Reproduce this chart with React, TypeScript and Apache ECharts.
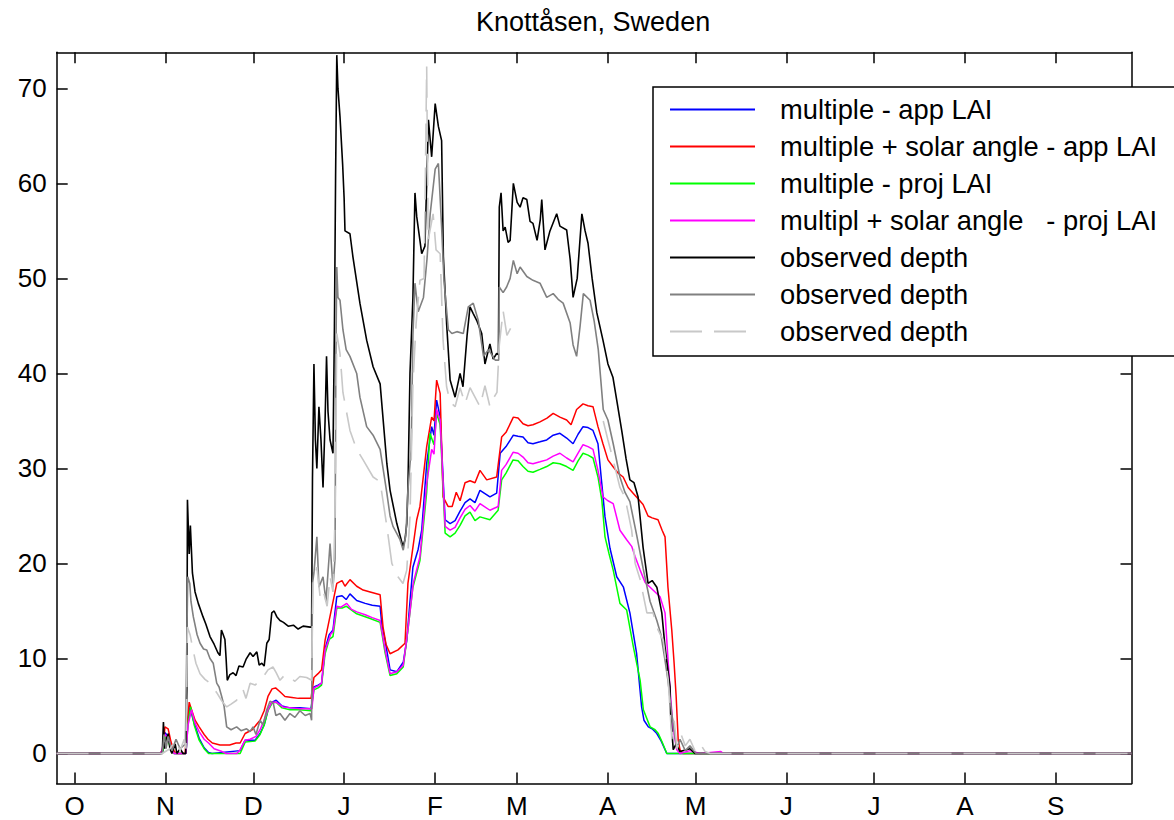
import React, { useEffect, useRef } from "react";
import * as echarts from "echarts";

// x values are days since 1 October
const monthStarts = [0, 31, 61, 92, 123, 151, 182, 212, 243, 273, 304, 335];
const monthLabels = ["O", "N", "D", "J", "F", "M", "A", "M", "J", "J", "A", "S"];
const yTicks = [0, 10, 20, 30, 40, 50, 60, 70];

const titleText = "Knottåsen, Sweden";
const seriesNames = [
  "multiple - app LAI",
  "multiple + solar angle - app LAI",
  "multiple - proj LAI",
  "multipl + solar angle   - proj LAI",
  "observed depth",
  "observed depth ",
  "observed depth  ",
];

const appLai: [number, number][] = [
  [-6.2, 0], [29.2, 0], [30.2, 0.3], [30.8, 2.2], [31.9, 1.8], [32.9, 0.6], [33.9, 0], [38, 0], [38.7, 3.5], [39.4, 4.9],
  [40.4, 3.6], [42.5, 1.6], [44.2, 0.6], [45.7, 0.1], [46.9, 0], [56.5, 0.3], [58.2, 1.4], [61.6, 1.4], [63.3, 2.1], [64.7, 3],
  [66, 4.6], [67.4, 5.4], [68.8, 5.6], [70.8, 5], [73.5, 4.8], [76.9, 4.8], [80.7, 4.7], [81.7, 7], [83.1, 7.2], [84.3, 7.4],
  [85.5, 11], [86.9, 12.5], [88.2, 13], [89.5, 16.5], [91.3, 16.6], [92.7, 16.2], [94, 16.8], [96.3, 16.1], [99.2, 15.8], [101.6, 15.6],
  [104.3, 15.5], [104.9, 13.5], [106, 11.9], [107.7, 8.8], [110, 8.6], [112.2, 9.6], [113.4, 11.9], [114.5, 16], [115.5, 19.6], [117.3, 21.5],
  [118.5, 23.5], [120.2, 30.5], [121.9, 34.4], [122.7, 33.5], [123.6, 37.2], [124.8, 35.4], [126.5, 24.6], [128.2, 24.2], [129.9, 24.5], [131.6, 25.5],
  [133.3, 26.4], [135, 26.8], [136.7, 26.4], [138.4, 27.7], [141.8, 27], [144.1, 27.4], [145.3, 31.6], [147.3, 32.3], [149.8, 33.5], [151.4, 33.4],
  [153.1, 33.3], [154.8, 32.7], [156.5, 32.6], [158.9, 32.8], [161.2, 33], [163.4, 33.5], [165.7, 33.7], [168, 33.2], [170.2, 32.6], [171.9, 33.6],
  [173.6, 34.4], [175.3, 34.3], [177, 34], [178.7, 32.6], [180, 28.4], [181.1, 24.9], [182.8, 21.6], [185.1, 18.6], [187.4, 17.5], [189.6, 14.8],
  [191.9, 10.5], [193.6, 4.9], [194.4, 3.5], [195.9, 2.8], [197.2, 2.6], [198.8, 2.1], [200.3, 1.3], [202.2, 0], [361, 0],
];

const solarAppLai: [number, number][] = [
  [-6.2, 0], [29.2, 0], [30.2, 0.5], [30.8, 2.8], [31.9, 2.6], [32.9, 1.2], [33.9, 0.3], [34.6, 0], [37.7, 0], [38.4, 3],
  [39.1, 5.4], [39.7, 4.8], [41.1, 3.5], [42.5, 2.8], [44.2, 2], [45.5, 1.5], [47, 1.1], [49.6, 0.9], [52.9, 0.9], [55.1, 1.1],
  [56.5, 1.1], [58.2, 2.1], [60.6, 2.5], [63.3, 3.5], [64.7, 4.5], [66, 6], [67.4, 6.8], [68.6, 6.9], [70.1, 6.5], [71.8, 6],
  [74.2, 5.9], [76.4, 5.8], [78.7, 5.8], [80.7, 5.8], [81.7, 8], [83.1, 8.4], [84.3, 8.8], [85.5, 11.9], [86.9, 14], [87.9, 15.5],
  [89.5, 17.9], [91.3, 18.2], [92.3, 17.6], [94, 18.3], [96.3, 17.6], [98.5, 17.2], [100.9, 17], [104.3, 16.7], [105.3, 13.3], [106.3, 11.5],
  [107.7, 10.5], [110.4, 10.9], [112.8, 11.6], [113.8, 17.9], [115.5, 21.7], [116.8, 24.6], [117.9, 26], [119, 29], [120.2, 32.3], [121.9, 35.4],
  [122.7, 35], [123.6, 39.3], [124.8, 37.9], [125.8, 27], [127.5, 26], [128.9, 26], [130.3, 27.5], [131.6, 26.6], [133.3, 28.5], [135, 28.7],
  [136.7, 28.5], [138.4, 29.8], [140.7, 28.8], [144.1, 29.1], [145.8, 33.3], [147.3, 33.8], [149.8, 35.4], [151.4, 35.3], [153.1, 34.7], [154.8, 34.5],
  [156.5, 34.6], [158.9, 34.9], [161.3, 35.3], [163.4, 35.8], [165.7, 35.4], [168, 35.1], [169.5, 34.6], [171.4, 36.2], [173.6, 36.8], [175.3, 36.6],
  [177, 36.5], [178.7, 34.4], [180.4, 32.6], [182.1, 30.9], [183.8, 30.2], [185.6, 29.5], [187.3, 29.1], [189, 28], [190.7, 27.4], [192.4, 26.8],
  [194.1, 26.2], [195.8, 25], [197.2, 24.8], [199.2, 24.6], [200.6, 23.5], [201.6, 22.8], [202.6, 17.5], [203.9, 13], [204.7, 9.5], [205.4, 6],
  [206.1, 1.4], [206.7, 0.4], [207.7, 0], [361, 0],
];

const projLai: [number, number][] = [
  [-6.2, 0], [29.2, 0], [30.2, 0.3], [30.8, 1.8], [31.9, 1.3], [32.9, 0.4], [33.9, 0], [38, 0], [38.7, 3.2], [39.6, 4.9],
  [40.8, 3], [42.5, 1.4], [44.2, 0.5], [45.7, 0], [56.5, 0], [58.2, 1.2], [61.6, 1.3], [63.3, 2], [64.7, 3], [66, 4.5],
  [67.4, 5.3], [68.8, 5.4], [70.8, 4.8], [73.5, 4.6], [76.9, 4.6], [80.7, 4.5], [81.7, 6.7], [83.1, 6.9], [84.3, 7.2], [85.5, 10.5],
  [86.9, 12], [88.2, 12.3], [89.5, 15.3], [91.3, 15.3], [92.7, 15.5], [96.3, 14.7], [100.9, 14.2], [104.3, 13.8], [106, 10.6], [107.7, 8.2],
  [110, 8.4], [112.2, 9.1], [113.8, 13], [115.5, 17.5], [117.9, 20.3], [120.2, 27.5], [121.3, 33.7], [122.7, 32.5], [123.6, 35.8], [124.8, 34.6],
  [126.5, 23.2], [128.2, 22.8], [129.9, 23.2], [131.6, 24], [133.3, 25], [135, 25.4], [136.7, 24.5], [138.4, 24.9], [141.8, 24.6], [144.6, 25.6],
  [145.8, 28.8], [147.3, 29.5], [149.7, 30.9], [151.4, 30.8], [153.1, 30.2], [154.8, 29.7], [156.5, 29.6], [158.9, 29.9], [161.2, 30.2], [163.4, 30.6],
  [165.7, 30.5], [168, 30.2], [170.2, 29.8], [171.9, 30.8], [173.6, 31.6], [175.3, 31.4], [177, 31.1], [178.7, 29.1], [180, 26.7], [181.1, 22.8],
  [182.5, 21], [183.9, 19.3], [186.2, 15.8], [188.5, 15.1], [190.8, 11.2], [193.1, 7.7], [194.2, 4.6], [196.5, 2.8], [198.2, 2.5], [199.3, 2.1],
  [200.6, 1.2], [202.2, 0], [361, 0],
];

const solarProjLai: [number, number][] = [
  [-6.2, 0], [29.2, 0], [29.8, 0.3], [30.8, 2], [31.9, 1.6], [32.9, 0.5], [33.9, 0], [38, 0], [38.7, 3], [39.9, 4.6],
  [41.1, 3.2], [42.5, 2.3], [44.2, 1.5], [45.7, 1.1], [47.6, 0.5], [50.3, 0.2], [51.7, 0], [55.4, 0], [56.5, 0.4], [58.2, 1.4],
  [59.9, 1.5], [61.9, 1.8], [63.3, 2.5], [64.7, 3.5], [66, 4.6], [67.3, 5.4], [68.8, 5.4], [71.1, 4.9], [74.2, 4.8], [76.9, 4.7],
  [81, 4.7], [81.7, 6.9], [83.1, 7.1], [84.3, 7.4], [85.5, 10.9], [87.5, 12.6], [88.2, 12.8], [89.5, 15.5], [90.9, 15.4], [92.9, 15.8],
  [94.4, 15.2], [96.3, 14.9], [99.2, 14.6], [101.6, 14.3], [104.3, 14], [106, 10.9], [107.7, 8.4], [110, 8.6], [112.2, 9.3], [113.9, 13.3],
  [115.6, 17.9], [117.9, 20.7], [120.2, 28.4], [121.9, 32], [122.7, 31.5], [123.6, 36.2], [124.8, 35.1], [126.5, 23.9], [128.2, 23.5], [129.9, 23.8],
  [131.6, 24.8], [133.3, 25.7], [135, 26.1], [136.7, 25.5], [138.4, 26.3], [141.8, 25.6], [144.6, 26], [145.8, 29.8], [147.3, 30.4], [149.7, 31.7],
  [151.4, 31.6], [153.1, 31.2], [154.8, 30.6], [156.5, 30.5], [158.9, 30.7], [161.2, 30.9], [163.4, 31.3], [165.7, 31.6], [168, 31.1], [170.2, 30.7],
  [171.9, 31.6], [173.6, 32.5], [175.3, 32.3], [177, 32], [178.7, 29.8], [180.4, 27], [182.1, 26.6], [183.9, 26.3], [186.2, 23.5], [188.5, 22.5],
  [190.2, 21.8], [191.4, 20.7], [193.1, 19.3], [194.8, 18], [196.5, 17.5], [198.2, 17], [199.9, 16.5], [201.6, 14.8], [202.7, 9.5], [203.5, 6],
  [204.4, 2.5], [205.6, 0.4], [206.7, 0], [210.1, 0.3], [213.6, 0], [220.7, 0.2], [221.5, 0], [361, 0],
];

const observedBlack: [number, number][] = [
  [-6.2, 0], [29.9, 0], [30.3, 3.3], [30.7, 0.5], [31.2, 1.5], [32, 2.1], [32.5, 0.5], [33.2, 0], [34.3, 1], [34.9, 0],
  [36, 0.5], [37, 0], [37.9, 0], [38.3, 6.7], [38.5, 26.7], [39.1, 21], [39.5, 24], [40.2, 19], [41.1, 17], [42.2, 15.8],
  [43.8, 14.4], [44.8, 13.6], [46.2, 12.3], [47.6, 11.5], [48.9, 10.6], [49.6, 10.3], [50.1, 13], [50.6, 12.6], [51.3, 12], [51.7, 10],
  [52.1, 7.7], [53, 8.3], [54.1, 8.5], [55.1, 8.2], [56.1, 9.2], [57.5, 9.1], [58.5, 9.9], [59.9, 10.6], [60.9, 10.2], [62.2, 10.7],
  [63, 9.3], [63.9, 9.5], [64.7, 9.2], [65.6, 11.6], [66.4, 12], [67.3, 14.8], [68.1, 15], [69, 14.4], [70.1, 14], [71.3, 13.8],
  [72.9, 13.4], [74.7, 13.5], [76.3, 13.1], [78, 13.4], [80.4, 13.3], [80.9, 13.3], [81.2, 29], [81.7, 41], [82.2, 33], [82.7, 30],
  [83.4, 36.5], [84.1, 33], [84.8, 28], [85.5, 35], [86, 41.8], [86.5, 36], [87.2, 33], [88.2, 31.6], [88.7, 45], [89.1, 61],
  [89.5, 73.5], [89.9, 70], [90.6, 67], [91.5, 62], [92, 58.5], [92.3, 55], [94, 54.7], [95, 52.3], [97.4, 47.4], [99.7, 43.5],
  [101.9, 40.7], [104.3, 38.9], [106.6, 30.5], [107.7, 27.7], [110, 24.2], [112.1, 21.8], [112.8, 22.5], [113.4, 24.2], [113.8, 28], [114.5, 40],
  [115.5, 48], [116.2, 59], [116.8, 56.5], [118.5, 52.6], [119.6, 53.4], [120.8, 66.7], [121.9, 62.8], [123.1, 68.4], [124.2, 66], [125.3, 64.5],
  [125.9, 52.3], [127, 45.3], [128.2, 39.3], [129.9, 37.5], [131.6, 40], [132.6, 38.6], [134, 44], [135, 47], [136.1, 46.3], [137.4, 45.5],
  [139, 44.2], [140.1, 41], [141.8, 43.1], [142.9, 41.5], [144.1, 42.1], [144.7, 42], [145, 57.5], [145.6, 59], [146.3, 55], [147, 55.4],
  [148, 53.8], [148.7, 54], [149.8, 60], [151.1, 58], [152.1, 57.5], [153.1, 58.5], [154.4, 58.3], [155.5, 56], [156.5, 55.8], [157.9, 54],
  [159, 56.2], [159.5, 58.3], [160.6, 53], [162.3, 55], [164.6, 56.8], [165.7, 55.5], [168, 55.1], [169.2, 52], [170.2, 48], [171.6, 50],
  [173.2, 56.8], [174.3, 55], [175.3, 53.7], [176.7, 50], [178.3, 46.4], [180.4, 43.5], [182.1, 41], [183.8, 39.6], [185.2, 37], [186.8, 34],
  [188.3, 31], [189.6, 28.8], [191, 28.5], [192.4, 27], [194.1, 21.7], [195.8, 17.9], [197.2, 18.2], [198.8, 17.5], [200.5, 14.8], [201.6, 11.2],
  [203.3, 7], [203.5, 4.2], [204.4, 0.4], [205.4, 1], [206.7, 0.2], [210.1, 0.5], [211.8, 0], [361, 0],
];

const observedGray: [number, number][] = [
  [-6.2, 0], [29.9, 0], [30.5, 2], [31.2, 0.5], [31.9, 1.8], [33.2, 0.3], [34.6, 1.5], [36, 0.5], [37.8, 1], [38.3, 12],
  [38.6, 18.6], [39.3, 17.9], [39.7, 16], [40.5, 14.4], [41.8, 12.5], [42.8, 11.6], [44, 11], [45.1, 10.9], [46.2, 10], [47.3, 9.5],
  [48.5, 7.4], [49.3, 7], [50.2, 6], [51, 5], [51.9, 2.8], [53.4, 2.5], [55.3, 2.8], [56.8, 2.4], [58.7, 2.6], [59.9, 2.3],
  [60.9, 2.8], [61.9, 2], [63.3, 3.5], [64.3, 3], [65.6, 4.6], [66.7, 5.5], [67.8, 5.3], [68.7, 4], [70.1, 4.2], [71.8, 3.5],
  [73.5, 4.2], [75.2, 3.8], [76.9, 4.5], [78.7, 4], [80.4, 4.2], [80.9, 3.5], [81.2, 17.9], [81.7, 19], [82.7, 22.8], [83.4, 17.5],
  [84.8, 18.6], [85.8, 16], [87.2, 22.1], [88.2, 17.5], [88.9, 20.5], [89.2, 42], [89.5, 51.2], [89.9, 48], [90.6, 47.7], [91.6, 44.6],
  [92.7, 42.5], [94, 41.8], [96.3, 40], [97.4, 37.5], [99.7, 34.4], [101.9, 33.5], [104.3, 32], [105.3, 30], [106.6, 27.4], [107.7, 25],
  [108.7, 23.9], [111.1, 22.5], [112.2, 21.4], [113.1, 23], [113.8, 27.7], [114.9, 32], [115.5, 44], [116.2, 49.5], [117.3, 46.5], [117.9, 47],
  [119.1, 48], [120.3, 52], [121.4, 56.8], [123.1, 61.5], [124.2, 62.1], [125.3, 55.4], [126.1, 49.8], [127.6, 44.6], [128.8, 44.2], [130.5, 44.4],
  [132.7, 44.2], [134.4, 47], [136.1, 47.4], [137.8, 45.6], [139.6, 41.8], [141.3, 42.5], [143.6, 41.4], [144.8, 41.4], [145, 49.1], [146.3, 48.5],
  [147.5, 49.1], [148.7, 50], [149.8, 51.9], [151.1, 50.5], [152.1, 51.2], [154.4, 50.2], [156.5, 49.8], [158.9, 49.5], [161.2, 48], [163.4, 48.4],
  [165.1, 47.8], [166.8, 47.4], [169.2, 45.3], [170.2, 43], [171.4, 41.8], [172.6, 45], [173.7, 48.4], [176, 47.7], [177.4, 45.5], [178.8, 42.5],
  [180.5, 36.2], [182.1, 35.1], [183.9, 32.6], [186.2, 29.1], [187.9, 27.5], [189.6, 26.5], [191.9, 23], [194.1, 19.5], [196.5, 16], [198.8, 14],
  [200.2, 12.5], [201.6, 9.8], [202.6, 7.7], [203.9, 4.2], [205.6, 0.5], [206.7, 1.5], [208.5, 0.3], [210.1, 0.8], [212.2, 0], [361, 0],
];

const observedLight: [number, number | null][] = [
  [-6.2, 0], [29.9, 0], [32.5, 0.5], [34.6, 1.4], [36, 0.3], [37.4, 1.5], [38, 0.5], [38.5, 13.3], [39.4, 12.5], [40.4, 10.9],
  [41.4, 9.5], [42.8, 8.4], [44.5, 7.8], [46.2, 7.4], [48.5, 6.4], [50.3, 5.5], [51.9, 4.9], [53.4, 5.2], [55.3, 5.6], [56.5, 6.5],
  [57.5, 6.7], [58.5, 5.8], [59.9, 7.4], [61.6, 7.2], [63.3, 7.7], [64.7, 8.2], [66, 8.8], [67.7, 9.1], [68.8, 8.5], [70.1, 7.7],
  [71.8, 8.3], [73.5, 8], [75.2, 7.6], [76.9, 8.1], [79.2, 8], [80.9, 7.7], [81.4, 17.9], [82.7, 19.6], [83.8, 16.5], [84.8, 17.2],
  [86.2, 15.5], [87.2, 18.6], [88.2, 17], [88.9, 24.9], [89.5, 44.2], [90.6, 42.1], [91.6, 38], [94, 34], [96.3, 32], [98.5, 30.9],
  [101.9, 29.1], [104.3, 28.6], [106.6, 23.9], [108.3, 20], [110.4, 18.6], [112.1, 17.9], [113.4, 19.3], [114.5, 24.9], [115.5, 38.9], [116.6, 45.3],
  [117.9, 49.8], [119.3, 50], [119.6, 56.8], [120.2, 72.3], [120.7, 54], [122.4, 56.8], [123.4, 53], [124.8, 52.6], [125.8, 43.5], [127, 38.6],
  [128.2, 37], [129.9, 36.5], [131.6, 38.5], [133.3, 36.8], [135, 38.5], [136.7, 37.5], [138.4, 36.5], [140.1, 38.7], [141.8, 36.5], [143.2, 37.5],
  [144.2, 38], [145, 43], [146.3, 46.6], [147.6, 44], [149.3, 45], [150, null], [180.5, 35], [182.1, 33], [183.8, 31], [186.2, 28],
  [187.9, 27], [190.2, 23.5], [191.4, 20], [193.1, 18.3], [195.4, 14.8], [197.5, 14.8], [199.2, 13], [201, 11.9], [202.7, 7.7], [203.9, 1.5],
  [204.7, 3.5], [205.7, 0.5], [207.1, 2], [208.5, 0.8], [210.1, 1.5], [211.8, 0.3], [213.6, 1], [215.3, 0.2], [217, 0], [361, 0],
];

const FONT = "'Liberation Sans', Arial, Helvetica, sans-serif";

function lineSeries(name: string, data: any[], color: string, width: number, dash?: number[]) {
  return {
    name,
    type: "line",
    data,
    symbol: "none",
    showSymbol: false,
    silent: true,
    animation: false,
    connectNulls: false,
    itemStyle: { color },
    lineStyle: { color, width, type: dash ? dash : "solid" },
    emphasis: { disabled: true },
  };
}

function makeXAxis(position: "bottom" | "top", showLabels: boolean) {
  return {
    type: "value",
    position,
    min: -6.15,
    max: 360.9,
    axisLine: { show: true, onZero: false, lineStyle: { color: "#000", width: 1.5 } },
    axisTick: { show: true, inside: true, length: 11, customValues: monthStarts, lineStyle: { color: "#000", width: 1.5 } },
    axisLabel: {
      show: showLabels,
      customValues: monthStarts,
      formatter: (v: number) => monthLabels[monthStarts.indexOf(v)] ?? "",
      fontSize: 26,
      fontFamily: FONT,
      color: "#000",
      margin: 9,
    },
    splitLine: { show: false },
  };
}

function makeYAxis(position: "left" | "right", showLabels: boolean) {
  return {
    type: "value",
    position,
    min: -3.16,
    max: 73.8,
    axisLine: { show: true, onZero: false, lineStyle: { color: "#000", width: 1.5 } },
    axisTick: { show: true, inside: true, length: 11, customValues: yTicks, lineStyle: { color: "#000", width: 1.5 } },
    axisLabel: {
      show: showLabels,
      customValues: yTicks,
      fontSize: 26,
      fontFamily: FONT,
      color: "#000",
      margin: 10,
    },
    splitLine: { show: false },
  };
}

export default function App() {
  const ref = useRef<HTMLDivElement>(null);
  useEffect(() => {
    document.body.style.margin = "0";
    const chart = echarts.init(ref.current as HTMLDivElement, undefined, { renderer: "svg" });
    chart.setOption({
      animation: false,
      backgroundColor: "#fff",
      title: {
        text: titleText,
        left: 471,
        top: 3,
        textStyle: { fontSize: 27, fontWeight: "normal", fontFamily: FONT, color: "#000" },
      },
      grid: { left: 56.7, right: 42.5, top: 52.3, bottom: 36.5, containLabel: false },
      xAxis: [makeXAxis("bottom", true), makeXAxis("top", false)],
      yAxis: [makeYAxis("left", true), makeYAxis("right", false)],
      legend: {
        show: true,
        orient: "vertical",
        left: 653,
        top: 87,
        data: seriesNames,
        selectedMode: false,
        backgroundColor: "#fff",
        borderColor: "#000",
        borderWidth: 1.5,
        padding: [4, 60, 6, 16],
        itemWidth: 85,
        itemHeight: 12,
        itemGap: 0,
        itemStyle: { opacity: 0 },
        formatter: (n: string) => n.trim(),
        textStyle: { fontSize: 27.3, lineHeight: 37, fontFamily: FONT, color: "#000", padding: [0, 0, 0, 20] },
      },
      series: [
        lineSeries(seriesNames[0], appLai, "#0000ff", 1.5),
        lineSeries(seriesNames[1], solarAppLai, "#ff0000", 1.5),
        lineSeries(seriesNames[2], projLai, "#00ff00", 1.5),
        lineSeries(seriesNames[3], solarProjLai, "#ff00ff", 1.5),
        lineSeries(seriesNames[4], observedBlack, "#000000", 1.6),
        lineSeries(seriesNames[5], observedGray, "#808080", 1.6),
        lineSeries(seriesNames[6], observedLight, "#c8c8c8", 1.6, [32, 12]),
      ],
    });
    return () => chart.dispose();
  }, []);
  return (
    <div
      ref={ref}
      style={{ position: "absolute", left: 0, top: 0, width: 1174, height: 820, background: "#fff" }}
    />
  );
}
